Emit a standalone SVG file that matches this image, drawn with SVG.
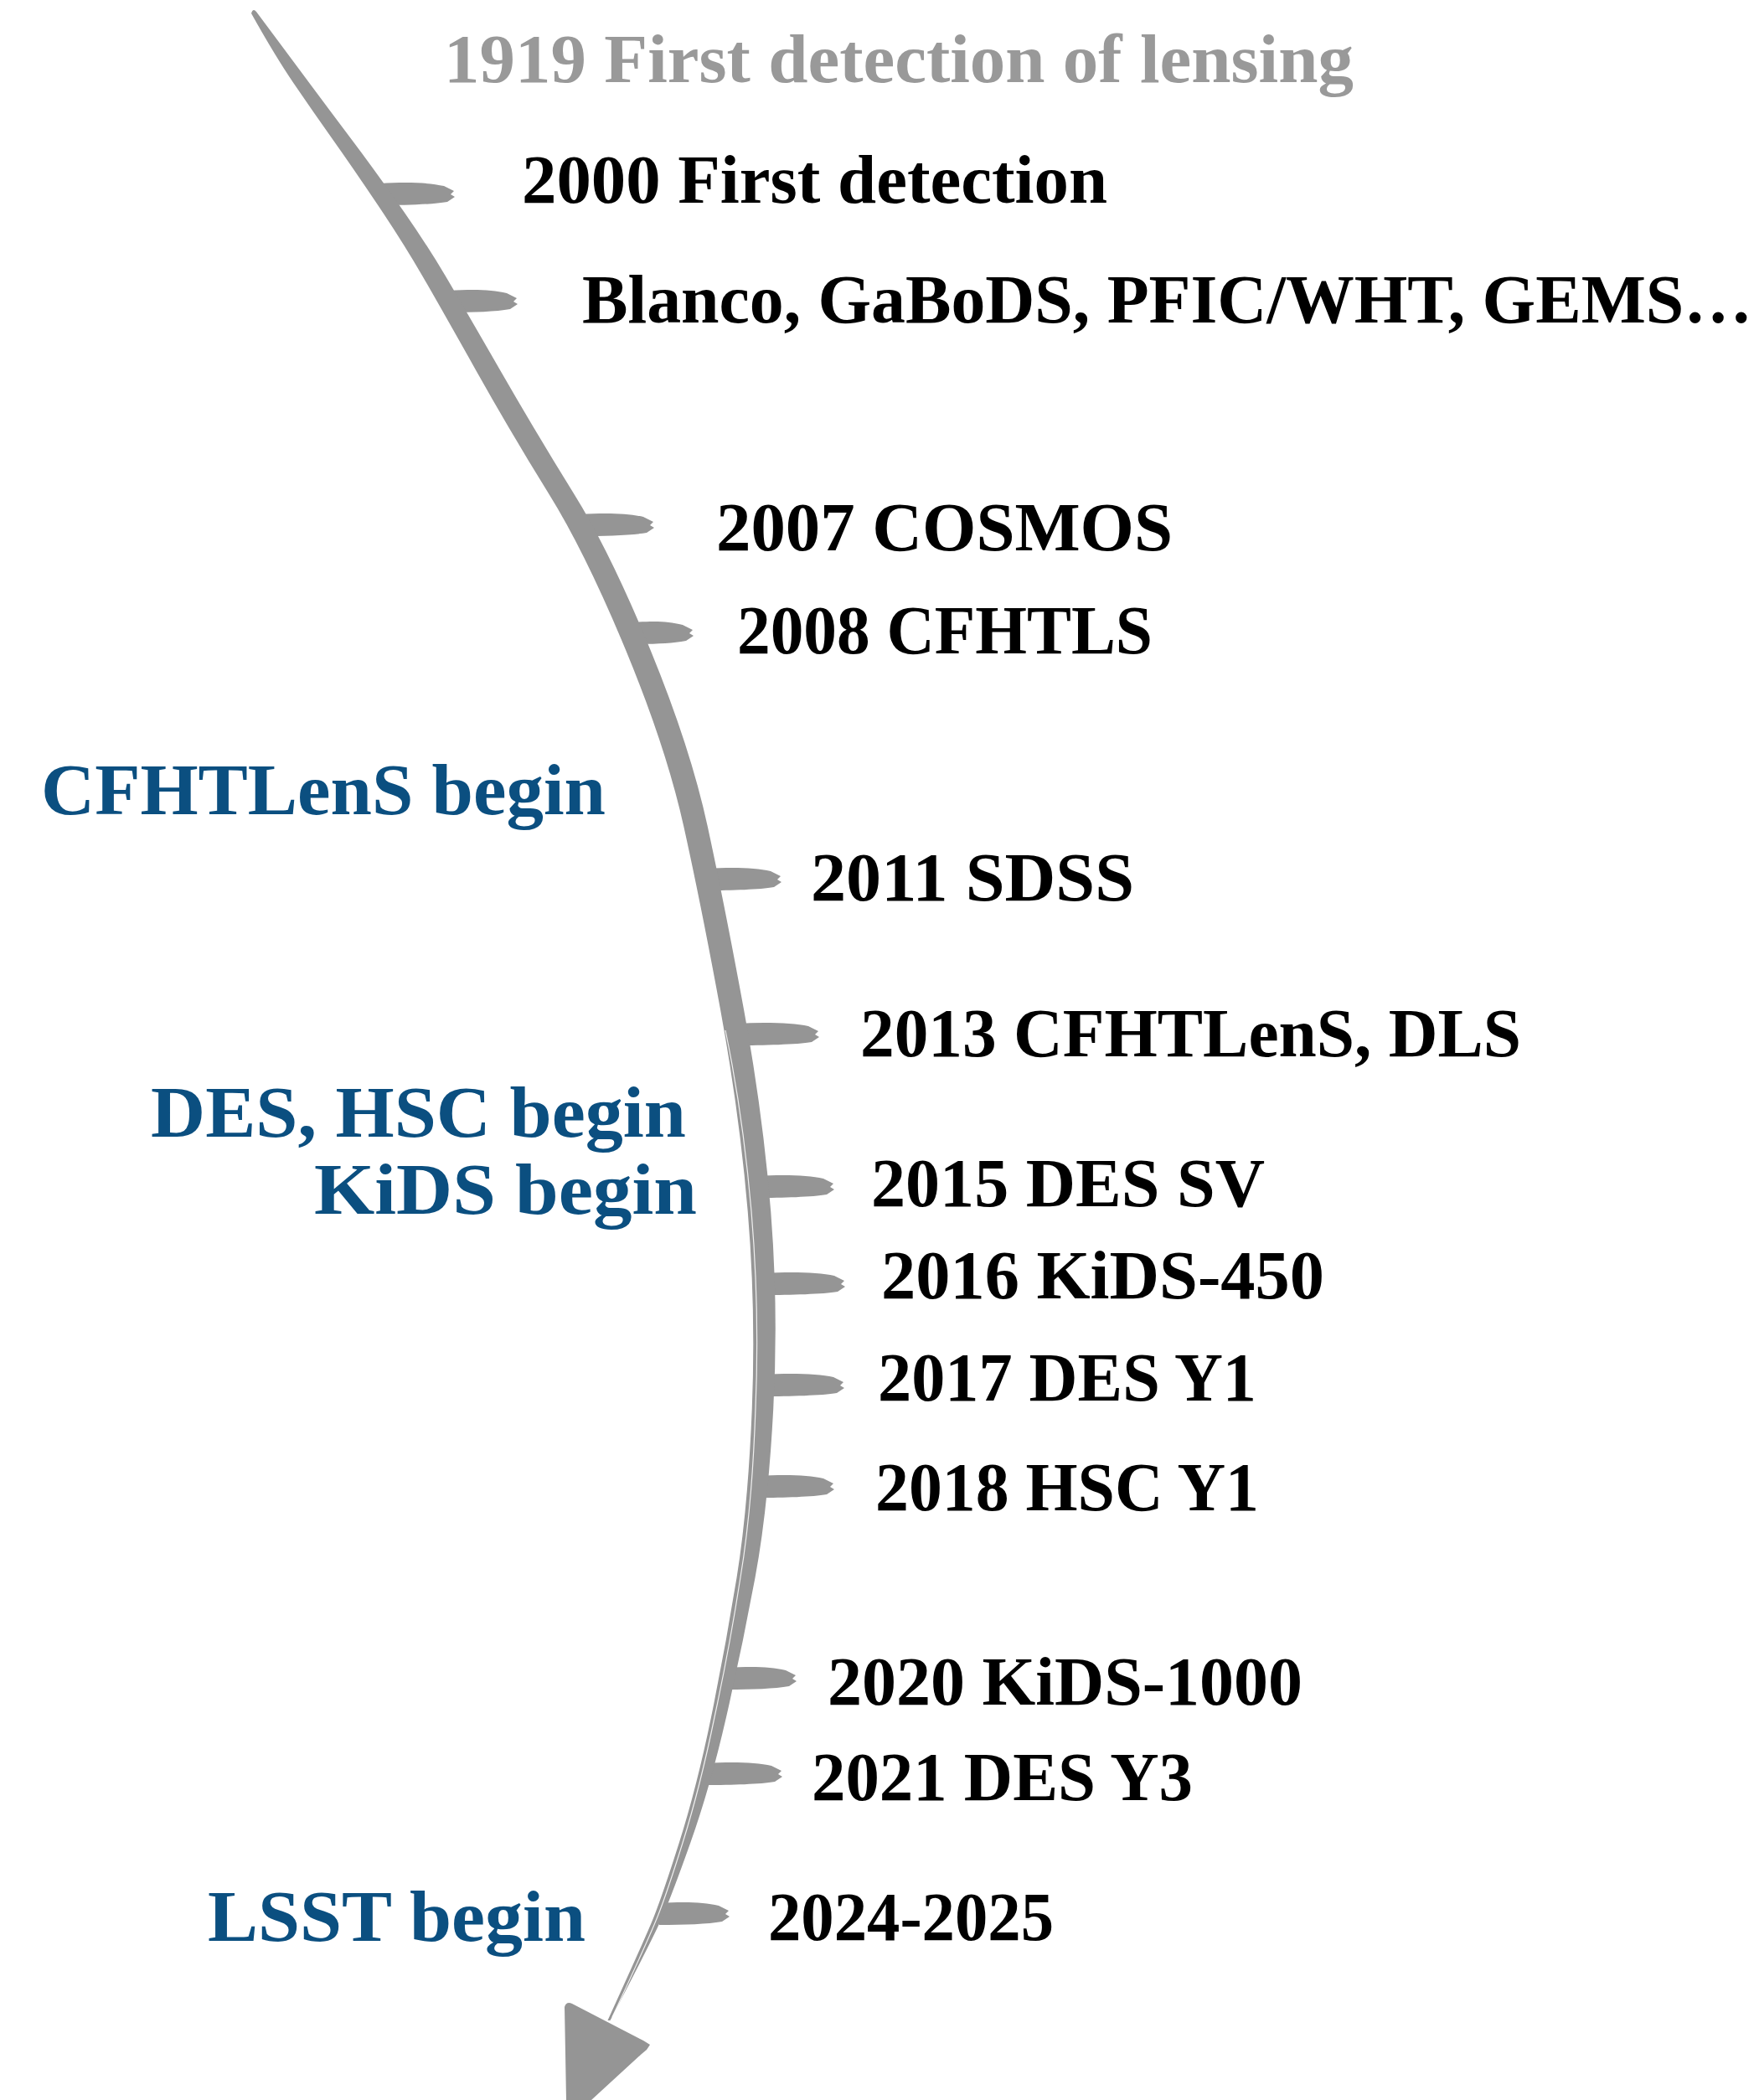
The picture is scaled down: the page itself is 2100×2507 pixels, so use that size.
<svg xmlns="http://www.w3.org/2000/svg" width="2100" height="2507" viewBox="0 0 2100 2507">
<style>
  .t { font-family: "Liberation Serif", "DejaVu Serif", serif; font-weight: bold; font-size: 82px; fill: #000; }
  .g { fill: #999999; }
  .b { font-size: 87px; fill: #0b4f80; }
  .brush { fill: #959595; stroke: none; }
  .streak { fill: none; stroke: #ffffff; stroke-width: 1.2; opacity: 0.85; }
</style>
<rect width="2100" height="2507" fill="#ffffff"/>
<g id="connectors">
  <g id="ticks" class="brush">
    <path d="M454,219 C486,217 512,218 530,222 L542,228 L538,232 L543,235 L534,241 C517,244 484,245 454,245 Z"/>
    <path d="M536,347 C568,345 587,346 605,350 L617,356 L613,360 L618,363 L609,369 C592,372 566,373 536,373 Z"/>
    <path d="M693,614 C725,612 750,613 768,617 L780,623 L776,627 L781,630 L772,636 C755,639 723,640 693,640 Z"/>
    <path d="M754,743 C786,741 797,742 815,746 L827,752 L823,756 L828,759 L819,765 C802,768 784,769 754,769 Z"/>
    <path d="M844,1037 C876,1035 902,1036 920,1040 L932,1046 L928,1050 L933,1053 L924,1059 C907,1062 874,1063 844,1063 Z"/>
    <path d="M880,1222 C912,1220 947,1221 965,1225 L977,1231 L973,1235 L978,1238 L969,1244 C952,1247 910,1248 880,1248 Z"/>
    <path d="M904,1404 C936,1402 965,1403 983,1407 L995,1413 L991,1417 L996,1420 L987,1426 C970,1429 934,1430 904,1430 Z"/>
    <path d="M913,1520 C945,1518 978,1519 996,1523 L1008,1529 L1004,1533 L1009,1536 L1000,1542 C983,1545 943,1546 913,1546 Z"/>
    <path d="M912,1641 C944,1639 977,1640 995,1644 L1007,1650 L1003,1654 L1008,1657 L999,1663 C982,1666 942,1667 912,1667 Z"/>
    <path d="M906,1762 C938,1760 965,1761 983,1765 L995,1771 L991,1775 L996,1778 L987,1784 C970,1787 936,1788 906,1788 Z"/>
    <path d="M868,1991 C900,1989 920,1990 938,1994 L950,2000 L946,2004 L951,2007 L942,2013 C925,2016 898,2017 868,2017 Z"/>
    <path d="M843,2105 C875,2103 903,2104 921,2108 L933,2114 L929,2118 L934,2121 L925,2127 C908,2130 873,2131 843,2131 Z"/>
    <path d="M787,2272 C819,2270 840,2271 858,2275 L870,2281 L866,2285 L871,2288 L862,2294 C845,2297 817,2298 787,2298 Z"/>
  </g>
  <path id="timeline" class="brush" d="M300,16 Q328.5,67 351,100 Q373.5,133 397.25,166.5 Q421,200 451.25,245 Q481.5,290 503.75,328.5 Q526,367 569,443.5 Q612,520 655.5,590 Q699,660 747.25,776.5 Q795.5,893 816.25,986.5 Q837,1080 860,1205 Q883,1330 892.75,1446.5 Q902.5,1563 897.75,1681.5 Q893,1800 879.5,1883.5 Q866,1967 849,2050 Q832,2133 810.75,2200 Q789.5,2267 778.5,2293.5 Q767.5,2320 725.5,2412 L728.5,2412 Q776.5,2320 788.5,2293.5 Q800.5,2267 824.25,2200 Q848,2133 867,2050 Q886,1967 901.5,1883.5 Q917,1800 923.25,1681.5 Q929.5,1563 920.25,1446.5 Q911,1330 888,1205 Q865,1080 844.75,986.5 Q824.5,893 776.75,776.5 Q729,660 685.5,590 Q642,520 598,443.5 Q554,367 531.25,328.5 Q508.5,290 476.75,245 Q445,200 419.75,166.5 Q394.5,133 370,100 Q345.5,67 306,14 Q302,9 300,16 Z"/>
  <path class="streak" d="M866,1230 Q887,1330 897,1446 Q907,1563 902,1681 Q898,1800 884,1883 Q871,1967 853,2050 Q836,2133 815,2200 Q794,2267 783,2293 Q772,2320 731,2408"/>
  <path id="arrowhead" class="brush" d="M674,2396 Q676,2389 683,2392 L768,2436 L776,2441 L772,2447 L766,2452 L706,2507 L676,2507 Z"/>
</g>
<g id="n1919"><text class="t g" x="530" y="98" textLength="1086" lengthAdjust="spacingAndGlyphs">1919 First detection of lensing</text></g>
<g id="n2000"><text class="t" x="623" y="242" textLength="699" lengthAdjust="spacingAndGlyphs">2000 First detection</text></g>
<g id="nBlanco"><text class="t" x="695" y="385" textLength="1397" lengthAdjust="spacingAndGlyphs">Blanco, GaBoDS, PFIC/WHT, GEMS…</text></g>
<g id="n2007"><text class="t" x="855" y="657" textLength="545" lengthAdjust="spacingAndGlyphs">2007 COSMOS</text></g>
<g id="n2008"><text class="t" x="880" y="780" textLength="496" lengthAdjust="spacingAndGlyphs">2008 CFHTLS</text></g>
<g id="n2011"><text class="t" x="968" y="1075" textLength="386" lengthAdjust="spacingAndGlyphs">2011 SDSS</text></g>
<g id="n2013"><text class="t" x="1027" y="1261" textLength="789" lengthAdjust="spacingAndGlyphs">2013 CFHTLenS, DLS</text></g>
<g id="n2015"><text class="t" x="1040" y="1440" textLength="470" lengthAdjust="spacingAndGlyphs">2015 DES SV</text></g>
<g id="n2016"><text class="t" x="1052" y="1550" textLength="529" lengthAdjust="spacingAndGlyphs">2016 KiDS-450</text></g>
<g id="n2017"><text class="t" x="1048" y="1672" textLength="452" lengthAdjust="spacingAndGlyphs">2017 DES Y1</text></g>
<g id="n2018"><text class="t" x="1045" y="1803" textLength="458" lengthAdjust="spacingAndGlyphs">2018 HSC Y1</text></g>
<g id="n2020"><text class="t" x="988" y="2035" textLength="567" lengthAdjust="spacingAndGlyphs">2020 KiDS-1000</text></g>
<g id="n2021"><text class="t" x="969" y="2149" textLength="455" lengthAdjust="spacingAndGlyphs">2021 DES Y3</text></g>
<g id="n2024"><text class="t" x="917" y="2316" textLength="341" lengthAdjust="spacingAndGlyphs">2024-2025</text></g>
<g id="bCFHTLenS"><text class="t b" x="49" y="972" textLength="674" lengthAdjust="spacingAndGlyphs">CFHTLenS begin</text></g>
<g id="bDESHSC"><text class="t b" x="180" y="1357" textLength="639" lengthAdjust="spacingAndGlyphs">DES, HSC begin</text></g>
<g id="bKiDS"><text class="t b" x="375" y="1449" textLength="457" lengthAdjust="spacingAndGlyphs">KiDS begin</text></g>
<g id="bLSST"><text class="t b" x="248" y="2317" textLength="451" lengthAdjust="spacingAndGlyphs">LSST begin</text></g>
</svg>
